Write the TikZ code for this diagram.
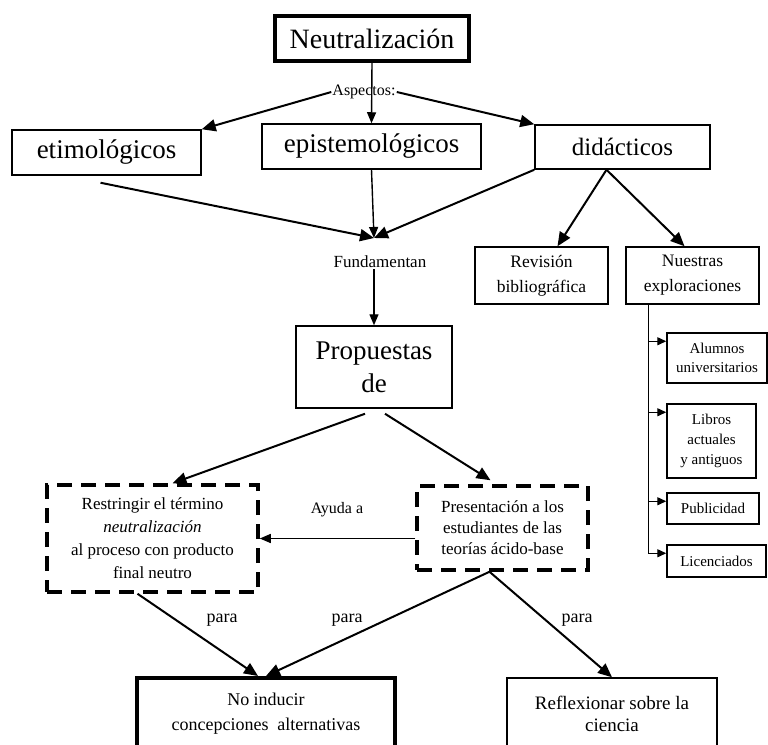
\documentclass[tikz,border=0pt]{standalone}
\usepackage{fontspec}
\setmainfont{Liberation Serif}
\usetikzlibrary{arrows.meta,calc,positioning}

\tikzset{
  caja/.style={draw, line width=1.5pt, align=center, inner sep=0pt},
  gruesa/.style={caja, line width=4pt},
  rayada/.style={caja, line width=3.5pt, dash pattern=on 15pt off 9pt},
  flecha/.style={line width=2pt, -{Triangle[length=14pt,width=12pt]}},
  fina/.style={line width=1.4pt, -{Triangle[length=11pt,width=9pt]}},
  flechita/.style={line width=1.4pt, -{Triangle[length=9pt,width=8pt]}},
  rotulo/.style={inner sep=1pt}
}

\begin{document}
\begin{tikzpicture}[x=1pt,y=-1pt]
  \clip (0,0) rectangle (768,744);
  % parte de arriba
  \node[gruesa, minimum width=194pt, minimum height=45pt, font=\fontsize{28}{30}\selectfont] (neu) at (372,38.5) {Neutralización};
  \node[rotulo, font=\fontsize{16}{18}\selectfont] (asp) at (364,92) {Aspectos:};
  \node[caja, minimum width=189pt, minimum height=45pt, font=\fontsize{27}{30}\selectfont] (eti) at (106.5,152.5) {etimológicos};
  \node[caja, minimum width=219pt, minimum height=45pt, font=\fontsize{27}{30}\selectfont] (epi) at (371.5,146.5) {epistemológicos};
  \node[caja, minimum width=175pt, minimum height=44pt, font=\fontsize{25}{30}\selectfont] (did) at (622.5,147) {didácticos};
  \draw[fina] (neu.south) -- (epi.north);
  \draw[flecha] (asp.west) -- (eti.north east);
  \draw[flecha] (asp.east) -- (did.north west);

  % fundamentan
  \coordinate (junta) at (374,238);
  \node[rotulo, font=\fontsize{17}{20}\selectfont] (fund) at (380,262) {Fundamentan};
  \draw[flecha] ($(eti.south)+(-6,7)$) -- (junta);
  \draw[fina] (epi.south) -- (junta);
  \draw[flecha] (did.south west) -- (junta);
  \node[caja, minimum width=156pt, minimum height=82pt, font=\fontsize{27}{33}\selectfont] (prop) at (374,367) {Propuestas\\de};
  \draw[fina] (fund.south -| prop.north) -- (prop.north);

  % rama de los didacticos
  \node[caja, minimum width=133pt, minimum height=57pt, font=\fontsize{17.5}{25}\selectfont] (rev) at (541.5,275.5) {Revisión\\bibliográfica};
  \node[caja, minimum width=133pt, minimum height=57pt, font=\fontsize{17.5}{25}\selectfont] (nue) at (692.5,275.5) {Nuestras\\exploraciones};
  \draw[flecha] ($(did.south)+(-16,0)$) -- ($(rev.north)+(16,0)$);
  \draw[flecha] ($(did.south)+(-16,0)$) -- ($(nue.north)+(-8,0)$);
  \node[caja, minimum width=100pt, minimum height=50pt, font=\fontsize{15}{19}\selectfont] (alu) at (717,358) {Alumnos\\universitarios};
  \node[caja, minimum width=89pt, minimum height=74pt, font=\fontsize{15}{20}\selectfont] (lib) at (711.5,441) {Libros\\actuales\\y antiguos};
  \node[caja, minimum width=92pt, minimum height=31pt, font=\fontsize{15}{19}\selectfont] (pub) at (713,508.5) {Publicidad};
  \node[caja, minimum width=99pt, minimum height=32pt, font=\fontsize{15}{19}\selectfont] (lic) at (716.5,561) {Licenciados};
  \coordinate (tronco) at ($(nue.south west)+(23,0)$);
  \draw[line width=1.4pt] (tronco) -- ++(0,249);
  \foreach \n in {alu,lib,pub,lic}
    \draw[flechita] ($(\n.north west)+(-18,9)$) -- ($(\n.north west)+(0,9)$);

  % propuestas
  \node[rayada, minimum width=211pt, minimum height=107pt, font=\fontsize{17}{23}\selectfont] (res) at (152.5,538.5)
    {Restringir el término\\\textit{neutralización}\\al proceso con producto\\final neutro};
  \node[rayada, minimum width=171pt, minimum height=84pt, font=\fontsize{17}{21}\selectfont] (pre) at (502.5,528)
    {Presentación a los\\estudiantes de las\\teorías ácido-base};
  \draw[flecha] ($(prop.south)+(-9,5)$) -- ($(res.north)+(20,0)$);
  \draw[flecha] ($(prop.south)+(11,5)$) -- ($(pre.north)+(-12,-4)$);
  \node[rotulo, font=\fontsize{16}{19}\selectfont] (ayu) at (337,510) {Ayuda a};
  \draw[fina] (res.east -| pre.west) -- (res.east);

  % para
  \node[gruesa, minimum width=258pt, minimum height=72pt, font=\fontsize{18}{25}\selectfont] (noi) at (266,714)
    {No inducir\\concepciones\enspace alternativas};
  \node[caja, minimum width=210pt, minimum height=72pt, font=\fontsize{19}{22}\selectfont] (ref) at (612,714)
    {Reflexionar sobre la\\ciencia};
  \draw[flecha] ($(res.south)+(-15,0)$) -- ($(noi.north)+(-8,0)$);
  \draw[flecha] ($(pre.south)+(-13,0)$) -- (noi.north);
  \draw[flecha] ($(pre.south)+(-13,0)$) -- (ref.north);
  \node[rotulo, font=\fontsize{18}{20}\selectfont] (para1) at (222,620) {para};
  \node[rotulo, font=\fontsize{18}{20}\selectfont] (para2) at (347,620) {para};
  \node[rotulo, font=\fontsize{18}{20}\selectfont] (para3) at (577,620) {para};
\end{tikzpicture}
\end{document}
